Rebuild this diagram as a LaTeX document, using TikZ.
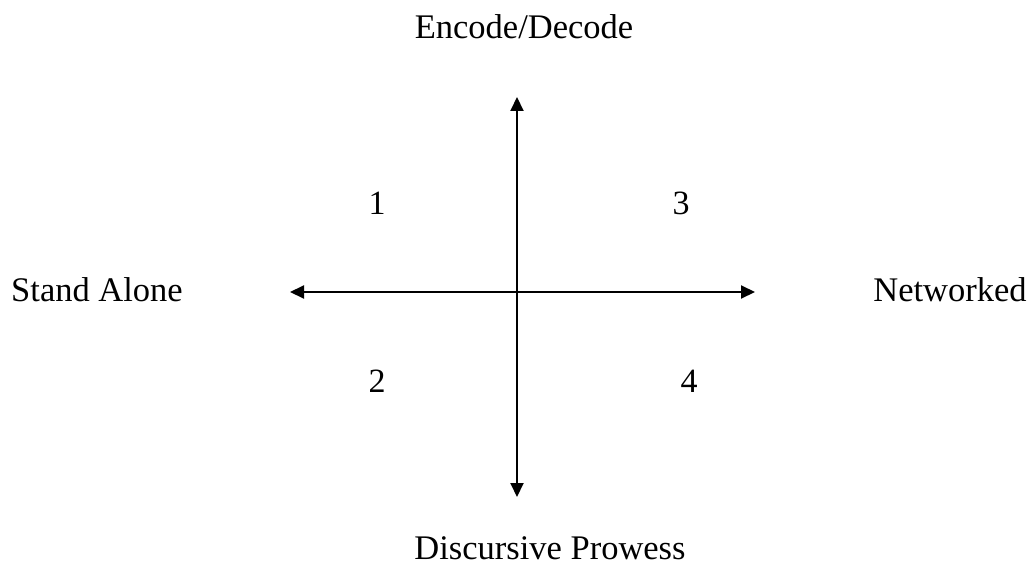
\documentclass[tikz,border=0pt]{standalone}
\usepackage{fontspec}
\setmainfont{Liberation Serif}
\usetikzlibrary{arrows.meta}
\begin{document}
\begin{tikzpicture}[x=1pt,y=-1pt,
  lbl/.style={font=\fontsize{34.5}{40}\selectfont, inner sep=0pt},
  num/.style={font=\fontsize{34}{40}\selectfont, inner sep=0pt},
  axis/.style={line width=2pt, {Triangle[length=14pt,width=13pt]}-{Triangle[length=14pt,width=13pt]}}]
\useasboundingbox (0,0) rectangle (1033,567);
\node[lbl] (top) at (524,27) {Encode/Decode};
\node[lbl] (bottom) at (550,548) {Discursive Prowess};
\node[lbl] (left) at (97,290) {Stand Alone};
\node[lbl] (right) at (950,290) {Networked};
\coordinate (n) at (517,97);
\coordinate (s) at (517,497);
\coordinate (w) at (290,292);
\coordinate (e) at (755,292);
\draw[axis] (s) -- (n);
\draw[axis] (w) -- (e);
\node[num] (q1) at (377,203) {1};
\node[num] (q3) at (681,203) {3};
\node[num] (q2) at (377,381) {2};
\node[num] (q4) at (689,381) {4};
\end{tikzpicture}
\end{document}
